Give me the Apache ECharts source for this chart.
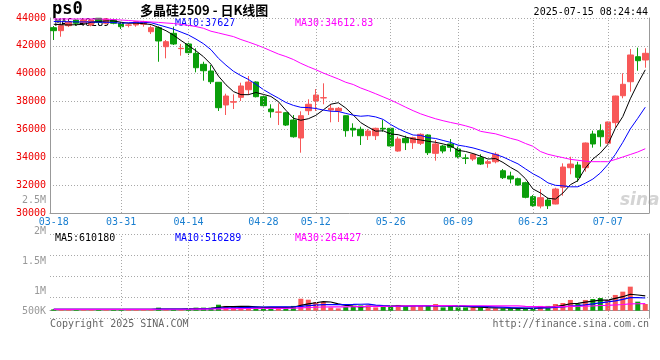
<!DOCTYPE html>
<html><head><meta charset="utf-8">
<script src="https://cdn.jsdelivr.net/npm/echarts@6/dist/echarts.min.js"></script>
<style>html,body{margin:0;padding:0;background:#fff}#c{width:660px;height:360px}</style>
</head><body><div id="c"></div>
<script>
// ---------------- data ----------------
const dates = [
'03-18','03-19','03-20','03-21','03-24','03-25','03-26','03-27','03-28','03-31',
'04-01','04-02','04-03','04-07','04-08','04-09','04-10','04-11','04-14','04-15',
'04-16','04-17','04-18','04-21','04-22','04-23','04-24','04-25','04-28','04-29',
'04-30','05-06','05-07','05-08','05-09','05-12','05-13','05-14','05-15','05-16',
'05-19','05-20','05-21','05-22','05-23','05-26','05-27','05-28','05-29','05-30',
'06-03','06-04','06-05','06-06','06-09','06-10','06-11','06-12','06-13','06-16',
'06-17','06-18','06-19','06-20','06-23','06-24','06-25','06-26','06-27','06-30',
'07-01','07-02','07-03','07-04','07-07','07-08','07-09','07-10','07-11','07-14'];
const opens = [
43305,43090,43450,43855,43690,43500,43980,43620,43855,43620,
43480,43500,43550,43015,43305,41940,42900,41800,42135,41465,
40675,40195,39385,37755,37960,38305,38850,39405,38350,37465,
37235,37200,36675,35385,37345,38040,38260,37395,37325,36985,
36080,36010,35550,35550,36080,36080,34450,35360,35045,35005,
35600,34285,34810,34955,34595,33950,33875,33970,33565,33680,
33035,32655,32460,32175,31170,30500,30930,30645,31845,33250,
33445,33250,35670,35910,35005,36485,38420,39425,41220,40985];
const closes = [
43090,43445,43700,43620,43855,43855,43690,43930,43620,43375,
43500,43735,43735,43305,42350,42300,42135,41825,41510,40430,
40215,39425,37560,38400,37990,39120,39405,38350,37705,37270,
37250,36315,35475,36985,37805,38470,38280,37515,37515,35910,
35960,35550,35885,36080,36030,34810,35310,35045,35405,35650,
34330,34955,34450,34715,34040,33925,34215,33515,33680,34215,
32535,32440,32010,31125,30525,31100,30525,31720,33300,33515,
32560,35025,34955,35475,36535,38400,39240,41345,40935,41465];
const lows = [
42420,42655,43350,43450,43600,43400,43620,43550,43550,43210,
43330,43375,43375,42850,40860,41105,42060,41295,41345,40100,
39500,39260,37325,37035,37465,38040,38470,38300,37650,36840,
36315,36245,35405,34330,37035,37325,37805,36510,36535,35475,
35475,34880,35240,35240,35835,34690,34400,34520,34600,34880,
34165,33755,34285,34400,33925,33515,33735,33445,33250,33565,
32440,32130,31960,31055,30450,30335,30285,30620,31240,32780,
32245,32965,34690,34760,34955,36125,38235,38710,40215,40430];
const highs = [
43425,43550,43800,43900,43930,43930,43990,43990,43900,43700,
43620,43785,43800,43450,43400,42420,43375,42135,42225,41825,
40860,40625,39400,38565,38520,39355,39835,39450,38400,37805,
37875,37250,37035,37300,38165,38900,39310,37805,37610,37000,
36440,36195,36030,36125,36675,36125,35475,35550,35475,35720,
35650,35240,34880,35310,34760,34215,34215,34215,33805,34355,
33160,32965,32535,32245,31290,31720,31100,31815,33565,34040,
33680,35060,35910,36370,36560,38420,40030,41775,41870,41825];
const volumes = [
55000,55000,55000,55000,55000,55000,55000,55000,55000,55000,
55000,55000,55000,55000,125000,60000,55000,55000,60000,125000,
125000,125000,245000,195000,150000,150000,150000,150000,95000,150000,
135000,135000,195000,490000,450000,355000,355000,135000,95000,150000,
195000,215000,215000,135000,195000,195000,235000,195000,195000,195000,
195000,275000,135000,195000,135000,135000,135000,135000,95000,95000,
95000,95000,95000,95000,95000,195000,195000,275000,315000,440000,
275000,440000,480000,520000,440000,645000,780000,985000,370000,275000];
const ma30Price = [
43930,43930,43930,43930,43930,43930,43930,43915,43890,43855,
43820,43785,43755,43715,43685,43640,43605,43540,43470,43385,
43260,43050,42925,42795,42665,42455,42275,42085,41875,41645,
41415,41235,41020,40745,40505,40290,40050,39835,39625,39385,
39225,38975,38775,38560,38335,38110,37860,37595,37345,37120,
36935,36765,36625,36500,36390,36260,36100,35865,35770,35685,
35525,35360,35225,34990,34790,34415,34215,34090,33975,33855,
33785,33720,33685,33685,33685,33840,34020,34200,34380,34615];
const ma5PriceHead = [43550,43520,43500,43520];
const ma10PriceHead = [43750,43740,43730,43720,43720,43710,43700,43690,43680];
const labelDates = ['03-18','03-31','04-14','04-28','05-12','05-26','06-09','06-23','07-07'];
const gridDates = ['03-31','04-14','04-28','05-12','05-26','06-09','06-23','07-07'];
const priceMin = 30000, priceMax = 44000, priceStep = 2000;
const volTickLabels = ['2.5M','2M','1.5M','1M','500K'];
const mainLegend = ['MA5:40289','MA10:37627','MA30:34612.83'];
const volLegend = ['MA5:610180','MA10:516289','MA30:264427'];
const titleCode = 'ps0';
const titleText = '多晶硅2509 - 日K线图';
const timeText = '2025-07-15 08:24:44';

// ---------------- helpers ----------------
function movingAvg(vals, n, head) {
  return vals.map((v, i) => {
    if (i < n - 1) {
      if (head) return head[i];
      let s = 0; for (let k = 0; k <= i; k++) s += vals[k];
      return s / (i + 1);
    }
    let s = 0; for (let k = i - n + 1; k <= i; k++) s += vals[k];
    return s / n;
  });
}
const ma5 = movingAvg(closes, 5, ma5PriceHead);
const ma10 = movingAvg(closes, 10, ma10PriceHead);
const vma5 = movingAvg(volumes, 5);
const vma10 = movingAvg(volumes, 10);
const vma30 = movingAvg(volumes, 30);

const RED = '#f85858', GREEN = '#0a9e0a';
const MONO = '"DejaVu Sans Mono", monospace';
const GRIDC = '#a8a8a8', AXISC = '#999';

const kData = dates.map((d, i) => [opens[i], closes[i], lows[i], highs[i]]);
const volData = volumes.map((v, i) => ({
  value: v, itemStyle: { color: closes[i] >= opens[i] ? RED : GREEN }
}));

// layout (styles / positions only)
const G0 = { left: 50, right: 11, top: 18, height: 195 };
const G1 = { left: 50, right: 11, top: 234, height: 84 };
const volLabelY = [200, 231, 261, 291, 311];

function vline(gi) {
  return {
    type: 'line', data: [], xAxisIndex: gi, yAxisIndex: gi === 0 ? 0 : 1, z: 1,
    markLine: {
      silent: true, symbol: 'none', label: { show: false }, animation: false,
      lineStyle: { color: GRIDC, type: [1, 2], width: 1 },
      data: gridDates.map(d => ({ xAxis: d }))
    }
  };
}
function maLine(data, color, xi, yi, w) {
  return { type: 'line', data, xAxisIndex: xi, yAxisIndex: yi, showSymbol: false, symbol: 'none',
    lineStyle: { color, width: w || 1 }, z: 3, silent: true };
}

const graphic = [];
function txt(text, x, y, fill, font, align, z) {
  graphic.push({ type: 'text', x, y, z: z == null ? 10 : z, silent: true,
    style: { text, fill, font, textAlign: align || 'left', align: align || 'left',
             textVerticalAlign: 'middle', verticalAlign: 'middle' } });
}
txt(titleCode, 52, 10, '#000', 'bold 17px ' + MONO);
txt(titleText, 140, 10, '#000', 'bold 13px "Noto Sans CJK SC", sans-serif');
txt(timeText, 648, 12, '#000', '10px ' + MONO, 'right');
txt(mainLegend[0], 55, 23, '#000', '10px ' + MONO, 'left', 0);
txt(mainLegend[1], 175, 23, '#0000ff', '10px ' + MONO, 'left', 0);
txt(mainLegend[2], 295, 23, '#ff00ff', '10px ' + MONO, 'left', 0);
txt(volLegend[0], 55, 238, '#000', '10px ' + MONO);
txt(volLegend[1], 175, 238, '#0000ff', '10px ' + MONO);
txt(volLegend[2], 295, 238, '#ff00ff', '10px ' + MONO);
volTickLabels.forEach((t, i) => txt(t, 46, volLabelY[i], '#999', '10px ' + MONO, 'right'));
txt('Copyright 2025 SINA.COM', 50, 324, '#666', '10px ' + MONO);
txt('http://finance.sina.com.cn', 649, 324, '#666', '10px ' + MONO, 'right');
txt('sina', 620, 201, '#d4d4d4', 'italic bold 17px "DejaVu Sans", sans-serif', 'left', 0);

const option = {
  animation: false,
  backgroundColor: '#fff',
  grid: [
    Object.assign({ containLabel: false }, G0),
    Object.assign({ containLabel: false }, G1)
  ],
  graphic,
  xAxis: [
    { type: 'category', data: dates, gridIndex: 0, boundaryGap: true,
      axisLine: { show: true, lineStyle: { color: AXISC, width: 1 } },
      axisTick: { show: false }, splitLine: { show: false },
      axisLabel: { color: '#1a7fd0', fontFamily: MONO, fontSize: 10, margin: 4,
        interval: (i, v) => labelDates.indexOf(v) >= 0 } },
    { type: 'category', data: dates, gridIndex: 1, boundaryGap: true,
      axisLine: { show: true, lineStyle: { color: AXISC, width: 1 } },
      axisTick: { show: false }, axisLabel: { show: false }, splitLine: { show: false } }
  ],
  yAxis: [
    { type: 'value', gridIndex: 0, min: priceMin, max: priceMax, interval: priceStep,
      axisLine: { show: true, lineStyle: { color: AXISC } }, axisTick: { show: false },
      axisLabel: { color: '#ee0000', fontFamily: MONO, fontSize: 10, margin: 4, padding: [0, 0, 3, 0],
        formatter: v => String(v) },
      splitLine: { show: true, lineStyle: { color: GRIDC, type: [1, 2] } } },
    { type: 'value', gridIndex: 1, min: -300000, max: 3144000,
      axisLine: { show: false }, axisTick: { show: false }, axisLabel: { show: false }, splitLine: { show: false } },
    { type: 'value', gridIndex: 1, min: 0, max: 4, interval: 1,
      axisLine: { show: true, lineStyle: { color: AXISC } }, axisTick: { show: false }, axisLabel: { show: false },
      splitLine: { show: true, lineStyle: { color: GRIDC, type: [1, 2] } } },
    { type: 'value', gridIndex: 0, position: 'right', min: 0, max: 1,
      axisLine: { show: true, onZero: false, lineStyle: { color: AXISC } }, axisTick: { show: false },
      axisLabel: { show: false }, splitLine: { show: false } },
    { type: 'value', gridIndex: 1, position: 'right', min: 0, max: 1,
      axisLine: { show: true, onZero: false, lineStyle: { color: AXISC } }, axisTick: { show: false },
      axisLabel: { show: false }, splitLine: { show: false } }
  ],
  series: [
    vline(0), vline(1),
    { type: 'candlestick', data: kData, xAxisIndex: 0, yAxisIndex: 0, barWidth: 6, z: 2, silent: true,
      itemStyle: { color: RED, color0: GREEN, borderColor: RED, borderColor0: GREEN, borderWidth: 1 } },
    maLine(ma5, '#000000', 0, 0),
    maLine(ma10, '#0000ff', 0, 0),
    maLine(ma30Price, '#ff00ff', 0, 0),
    { type: 'bar', data: volData, xAxisIndex: 1, yAxisIndex: 1, barWidth: 5, z: 2, silent: true },
    maLine(vma5, '#000000', 1, 1, 1.2),
    maLine(vma10, '#0000ff', 1, 1, 1.2),
    maLine(vma30, '#ff00ff', 1, 1, 1.2)
  ]
};
const chart = echarts.init(document.getElementById('c'), null, { renderer: 'canvas' });
chart.setOption(option);
</script></body></html>
